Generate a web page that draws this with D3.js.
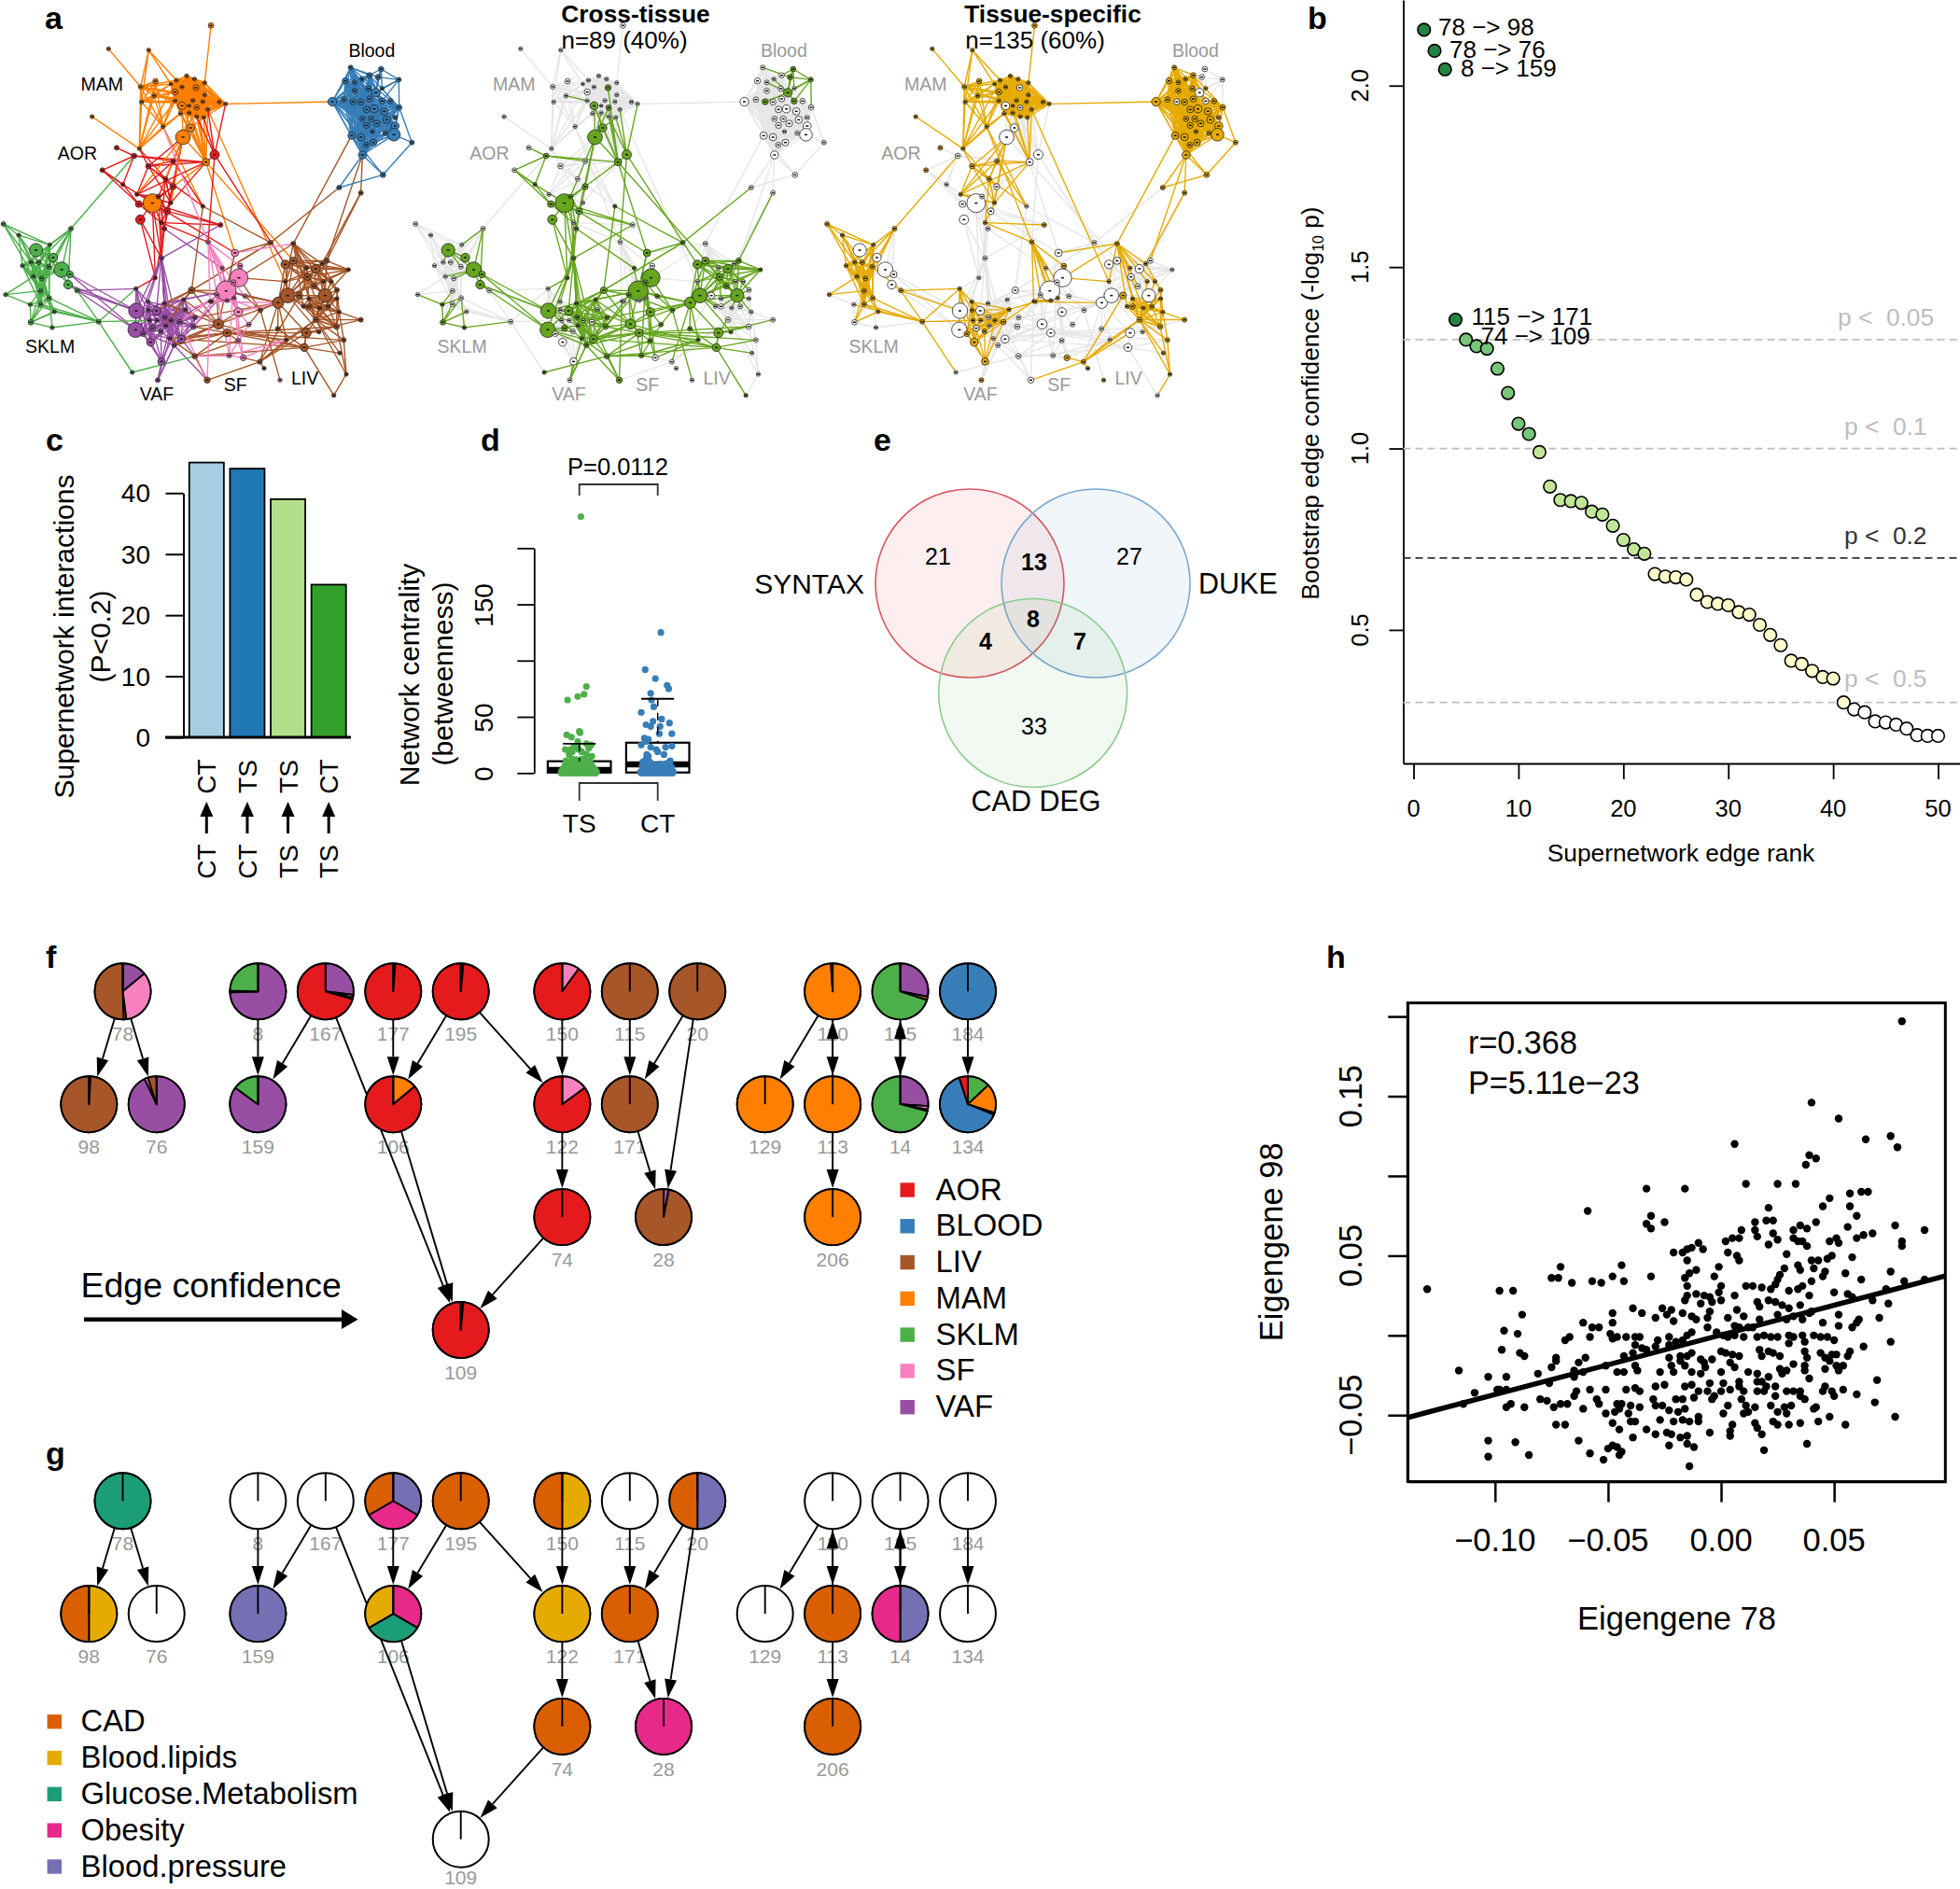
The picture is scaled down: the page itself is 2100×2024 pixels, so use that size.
<!DOCTYPE html>
<html>
<head>
<meta charset="utf-8">
<title>Supernetwork figure</title>
<script src="https://cdn.jsdelivr.net/npm/d3@7"></script>
<style>
  html, body { margin:0; padding:0; background:#fff; }
  svg { display:block; }
  text { font-family:"Liberation Sans", Arial, sans-serif; fill:#000; white-space:pre; }
</style>
</head>
<body>
<svg id="fig" width="2100" height="2024" viewBox="0 0 2100 2024"></svg>
<script>
// ------- panel a: supernetwork, node = [x, y, size, crossTissue] in layout units -------
const mamNodes = [[678,82,8,0],[349,157,6,0],[478,161,6,0],[500,261,8,0],[452,279,7,0],[600,244,6,0],[625,254,6,0],[658,266,6,0],[567,258,6,0],[549,270,5,0],[585,280,6,0],[630,282,9,1],[563,296,9,0],[495,308,6,0],[455,328,6,0],[658,305,6,0],[563,324,6,0],[620,323,6,0],[652,327,6,0],[705,328,6,0],[725,334,6,0],[585,340,12,1],[632,346,8,1],[668,352,6,0],[608,340,5,0],[580,365,6,0],[608,363,6,0],[632,375,6,0],[655,378,6,0],[524,407,6,0],[296,375,6,0],[613,411,12,1],[588,441,22,1],[448,478,6,0],[662,521,11,1],[490,653,28,1]];
const aorNodes = [[690,497,14,1],[375,475,7,0],[431,501,8,1],[557,518,7,0],[477,534,8,0],[329,547,7,0],[532,575,7,0],[395,593,6,1],[556,600,9,1],[440,625,6,0],[509,632,7,1],[446,656,10,1],[549,652,6,0],[537,679,10,1],[451,706,14,1],[519,716,6,0],[528,735,7,1],[709,723,7,0],[499,893,6,1]];
const vafNodes = [[519,830,7,1],[437,928,6,0],[438,999,23,1],[436,1060,23,1],[476,970,6,0],[503,999,13,1],[477,997,6,0],[528,975,6,1],[590,963,6,1],[596,995,6,0],[530,1020,7,1],[550,1030,6,0],[490,1055,9,1],[460,1073,8,0],[517,1065,7,0],[533,1047,6,1],[578,1035,8,0],[484,1100,12,0],[545,1088,6,1],[583,1090,12,1],[560,1110,7,1],[622,1050,8,1],[627,1021,7,1],[519,1162,11,0],[507,1222,7,0],[480,1030,6,0],[505,1030,6,0]];
const sfNodes = [[669,778,7,0],[755,813,11,1],[714,862,6,1],[772,855,8,0],[768,893,27,1],[727,935,30,1],[750,908,8,1],[697,948,7,1],[730,966,6,0],[752,958,6,0],[788,952,7,1],[766,1003,13,1],[800,1043,7,1],[765,1095,7,1],[737,1143,7,1],[782,1150,9,0],[675,968,5,0],[900,1222,6,0]];
const livNodes = [[616,933,10,1],[702,1042,15,1],[730,1070,12,1],[837,997,7,1],[894,973,17,1],[925,950,22,1],[917,850,13,1],[943,838,11,1],[1015,864,13,1],[988,890,10,1],[985,862,6,0],[1035,848,6,0],[1050,838,8,1],[1120,867,6,1],[917,905,6,0],[962,950,10,0],[1010,920,8,1],[1040,905,6,0],[1065,905,6,0],[1045,950,20,1],[1083,932,7,0],[975,985,6,0],[993,960,6,0],[993,985,8,0],[1027,990,6,0],[1055,985,7,0],[1083,960,6,0],[1090,1003,6,0],[1015,1028,8,0],[1160,1028,7,0],[1082,1050,8,0],[893,1057,7,1],[985,1070,14,1],[1025,1067,6,1],[920,1092,6,1],[978,1117,12,1],[1105,1093,7,0],[1092,1135,6,0],[1113,1203,6,0],[1073,1271,6,1],[835,1163,7,0],[849,1184,6,0],[666,1222,9,1],[626,1145,8,1],[870,780,7,1],[943,783,7,0],[1160,620,7,0],[680,970,6,0],[652,663,6,1]];
const bloodNodes = [[1127,217,7,0],[1225,222,8,1],[1110,260,9,0],[1140,265,7,0],[1163,254,6,0],[1188,242,8,0],[1215,248,8,1],[1282,256,7,1],[1228,284,6,0],[1140,292,8,0],[1185,285,8,0],[1208,298,13,1],[1068,327,13,0],[1105,320,8,0],[1135,327,9,1],[1160,328,9,0],[1188,318,9,0],[1228,325,9,1],[1255,325,8,0],[1283,345,8,0],[1178,352,10,0],[1203,350,12,0],[1235,358,11,0],[1270,378,7,0],[1165,382,8,0],[1193,382,9,0],[1243,385,11,0],[1178,403,9,0],[1212,397,10,0],[1270,405,12,0],[1130,436,11,0],[1160,441,11,0],[1197,423,6,0],[1238,428,7,0],[1266,433,19,0],[1177,466,8,0],[1200,458,10,0],[1165,498,12,0],[1324,458,7,0],[1231,562,8,0],[1090,603,7,0]];
const sklmNodes = [[11,720,7,0],[60,756,6,0],[228,735,7,0],[116,804,20,1],[160,787,6,0],[171,828,13,1],[72,854,6,0],[100,843,6,0],[124,843,7,0],[157,857,7,0],[198,867,23,1],[225,882,10,1],[107,889,6,0],[134,895,7,0],[219,915,13,1],[248,934,7,0],[130,935,7,0],[18,947,6,0],[97,979,6,1],[130,978,7,0],[158,958,7,0],[175,1002,6,0],[99,1036,8,1],[168,1053,6,1],[317,1034,7,0],[425,1197,6,1]];

// edge groups: [tissue colour in the first network, c = cross-tissue / t = tissue-specific, hub | clique, node ids]
const edgeGroups = [
  ['MAM','t','clique','m5 m6 m7 m8 m9 m10 m12 m15 m16 m17 m18 m19 m20 m23 m24 m25 m26 m27 m28'],
  ['MAM','t','hub','m4 m1 m2 m3 m8 m9 m12 m16 m13 m14 m19 m20 m29 m33'],
  ['MAM','t','hub','m14 m3 m13 m9 m12 m16 m17 m19 m20 m33 m29'],
  ['MAM','t','hub','m33 m30 m13 m3 m29 m25 m8 m16'],
  ['MAM','t','hub','m2 m8 m9 m14'],
  ['MAM','t','hub','m29 m3 m13 m25 m12 m16 l48'],
  ['MAM','t','hub','m13 m8 m3 m12 m19 m20'],
  ['MAM','t','hub','m0 m7'],
  ['MAM','t','hub','m20 b12'],
  ['MAM','t','hub','m34 m25 m26 m18 m24 m16'],
  ['MAM','t','hub','m23 m34 l14'],
  ['MAM','c','hub','m13 m16'],
  ['MAM','c','hub','m34 m21 m31 m32 m11 m22 m27 a8 s1 l7'],
  ['MAM','c','hub','m32 m31 m21 m22 m26'],
  ['MAM','c','hub','m31 m21 m28'],
  ['AOR','c','hub','a0 m28 m27 m23 m20 m34 l6 s0'],
  ['AOR','c','hub','a2 a1 a5 a7 m34 a3'],
  ['AOR','c','hub','a7 a5 a11 m35'],
  ['AOR','c','hub','a5 a11 a7'],
  ['AOR','c','hub','a8 m32 a13 a10 m35'],
  ['AOR','c','hub','a13 m32 a10 a11 a17'],
  ['AOR','c','hub','a10 m32 a16 v0'],
  ['AOR','c','hub','a16 m32 a13 v0'],
  ['AOR','c','hub','m35 a11 a14 v0 s1 a17'],
  ['AOR','c','hub','a14 v0 a18'],
  ['AOR','c','hub','a18 m35 a13'],
  ['AOR','c','hub','a15 m35 a11 v0'],
  ['AOR','t','hub','a4 a3 a6 a9 a12 m33 a8 m32 m34'],
  ['AOR','t','hub','a3 m32 a6 a9 m34 l48'],
  ['AOR','t','hub','a6 a12 a15 l48 m33'],
  ['AOR','t','hub','a15 a17 s0 a12'],
  ['AOR','t','hub','a12 m34 a9 m32 a6'],
  ['MAM','t','hub','m32 a3 a6 a12 a9'],
  ['AOR','t','hub','a9 m34 a12 a10'],
  ['LIV','c','hub','l48 l44 l0'],
  ['VAF','c','hub','a16 s2'],
  ['VAF','c','hub','v0 v3 v2 v4 v5 v7 v10 v15 v18 v19 v20 a17'],
  ['AOR','c','hub','a18 v1'],
  ['VAF','c','clique','v5 v7 v8 v10 v15 v19 v20 v21 v22 v11'],
  ['VAF','c','hub','v2 v7 v10 v15 v5 v14 v18'],
  ['VAF','c','hub','v3 v5 v14 v15 v18 v20'],
  ['VAF','c','hub','g14 v2 v3'],
  ['VAF','c','hub','g11 v2 v3'],
  ['VAF','t','hub','g15 v1 v2'],
  ['VAF','t','clique','v4 v6 v25 v26 v11 v12 v13 v17 v9 v16'],
  ['VAF','t','hub','v1 v2 v3 v4 v6 v13 v17'],
  ['VAF','t','hub','v23 v11 v12 v13 v17 v14 v16'],
  ['VAF','c','hub','v24 v18 v20 v23'],
  ['VAF','c','hub','v20 v24 l42'],
  ['VAF','c','hub','v19 l43 l2 l1'],
  ['LIV','c','hub','l0 v7 v8 v5 v15 s5 s7 l1 l44'],
  ['VAF','c','hub','s5 v8 v7 v15 v21 l4 s2 s1 s6 s4 s7 s10 s11'],
  ['LIV','c','hub','l1 v7 v8 v19 s7 s11 v20 l2 l4 v21 s1'],
  ['LIV','c','hub','l2 v18 v19 v20 v21 l35 l32 l34 s12 s13 l36 l30'],
  ['LIV','c','hub','l35 v19 l1 l31 l32 l36 l37 l39 l43'],
  ['LIV','c','hub','l3 s4 l4 s12 s10'],
  ['LIV','c','hub','l4 v22 s5 l5 s10 l19 l6 l7 l31 l34 l40 l32'],
  ['LIV','c','hub','l43 v18 l2 s14 s13'],
  ['SKLM','c','hub','g25 l43'],
  ['LIV','c','clique','l5 l6 l7 l8 l9 l16 l19 l12 l13'],
  ['LIV','c','hub','l5 l10 l14 l15 l33 l21 l23'],
  ['LIV','c','hub','l8 l10 l11 l14 l15 l17 l18 l20'],
  ['LIV','c','hub','l9 l10 l11 l14 l15 l17 l18 l22'],
  ['LIV','c','hub','l19 l15 l17 l18 l20 l22 l23 l24 l25 l26 l27'],
  ['LIV','c','hub','l44 l0 b40 s1'],
  ['LIV','c','hub','l12 l46'],
  ['LIV','c','hub','l32 l29 l33 l35 l28 l30'],
  ['LIV','c','hub','l42 l43'],
  ['LIV','t','clique','l21 l22 l23 l24 l25 l26 l27 l28 l30'],
  ['LIV','t','hub','l45 l10 l11 l16 l17 l18 l14 l21 l22 l24 l28 b30'],
  ['LIV','t','hub','l28 l29 l30 l36 l37 l38 l25 l34 l40 l20 l18 l17'],
  ['LIV','t','hub','l20 l27 l26 l11'],
  ['LIV','t','hub','l27 l29 l36'],
  ['LIV','t','hub','l38 l39 l36 l30'],
  ['LIV','t','hub','l46 b37 l11'],
  ['LIV','t','hub','l12 b37'],
  ['LIV','t','hub','l40 l41 l15 l32 s15 l42 l34'],
  ['LIV','t','hub','s4 l45 l14'],
  ['SF','t','hub','s1 l45'],
  ['SF','t','hub','s0 s2 s3 s5 s6 s8 s9 s7 s16 m29'],
  ['SF','t','hub','s16 v16 l47 s8 s9'],
  ['SF','t','hub','l47 v9 s8 s9 s7 l4'],
  ['SF','c','hub','s6 s10 s11 s13 s14 s15 s8 s9'],
  ['SF','c','hub','s14 s12 l43 l34 s15'],
  ['SF','c','hub','s15 l34 s13'],
  ['SF','c','hub','s11 l4 s12 s13'],
  ['SF','c','hub','s7 l3 s14 v21'],
  ['SF','c','hub','l42 v16 s16'],
  ['LIV','c','hub','s17 l3'],
  ['BLOOD','t','clique','b0 b2 b3 b5 b9 b12 b13 b15 b16 b20 b21 b22 b24 b26 b27 b28 b30 b31 b35 b36 b37 b29 b34 b19'],
  ['BLOOD','t','hub','b37 b39 b40 b30'],
  ['BLOOD','t','hub','b39 b38 b40 b30'],
  ['BLOOD','t','hub','b38 b34 b19'],
  ['BLOOD','c','hub','b7 b1 b6 b11 b8 b17 b19'],
  ['BLOOD','c','hub','b1 b6 b11 b8 b5'],
  ['BLOOD','c','hub','b11 b14 b6 b4 b3 b17'],
  ['BLOOD','c','hub','b0 b6'],
  ['BLOOD','t','hub','b13 b4 b10 b18 b23 b32 b33 b25'],
  ['SKLM','t','clique','g4 g6 g7 g8 g9 g12 g13 g16 g20 g19'],
  ['SKLM','t','hub','g0 g1 g4 g7 g12'],
  ['SKLM','t','hub','g1 g4 g7 g8 g6 g13'],
  ['SKLM','t','hub','g2 g4 g9 g8 g13 g16 a2'],
  ['SKLM','t','hub','g24 g19 g20 g18 g15 g21 v1 v25 g25'],
  ['SKLM','t','hub','g17 g16 g12'],
  ['SKLM','t','hub','g21 g19 g16 g13 g22'],
  ['SKLM','t','hub','g22 g16 g19'],
  ['SKLM','t','hub','g15 g9'],
  ['SKLM','c','hub','g3 g5 g7 g10 g9'],
  ['SKLM','c','hub','g10 g5 g11 g14 g2 g12 g13'],
  ['SKLM','c','hub','g2 g14 g4'],
  ['SKLM','c','hub','g22 g18 g19 g20 g21 g23'],
  ['SKLM','c','hub','g23 g24 g20'],
  ['SKLM','c','hub','g17 g18'],
  ['SKLM','c','hub','g18 g20 g16']
];
const networkLabels = [['MAM',328,290],['Blood',1195,183],['AOR',249,512],['SKLM',161,1133],['VAF',504,1287],['SF',757,1257],['LIV',980,1235]];

// ------- panel b -------
const edgeRank = d3.range(1, 51);
const edgeConfidence = [2.154,2.096,2.045,1.355,1.30,1.282,1.275,1.22,1.153,1.068,1.04,0.99,0.895,0.858,0.855,0.85,0.826,0.818,0.787,0.748,0.722,0.71,0.654,0.647,0.645,0.639,0.597,0.577,0.572,0.568,0.549,0.542,0.514,0.486,0.458,0.415,0.406,0.387,0.37,0.366,0.30,0.281,0.273,0.248,0.245,0.239,0.228,0.21,0.208,0.208];
const edgeFillSteps = [[4,'#238443'],[11,'#78C679'],[22,'#C2E699'],[41,'#FFFFCC'],[50,'#FFFFFF']];
const edgeNames = ['78 \u2212> 98','78 \u2212> 76','8 \u2212> 159','115 \u2212> 171','74 \u2212> 109'];
const pCutoffs = [['p <  0.05',1.30,'#BDBDBD'],['p <  0.1',1.0,'#BDBDBD'],['p <  0.2',0.698,'#333333'],['p <  0.5',0.30,'#BDBDBD']];

// ------- panel c -------
const interactionCounts = [45, 44, 39, 25];
const interactionColors = ['#A6CEE3','#1F78B4','#B2DF8A','#33A02C'];
const interactionFrom = ['CT','CT','TS','TS'];
const interactionTo = ['CT','TS','TS','CT'];

// ------- panel d: [jitter, betweenness] -------
const centralityTS = [[.02,228],[.09,77],[.06,70],[-.02,68],[-.15,65],[0,37],[.01,36],[-.16,34],[-.1,32],[-.02,28],[-.02,25],[.09,26],[.15,25],[-.07,23.5],[.12,22],[-.18,21],[-.11,21],[.03,19],[.16,15],[-.09,19],[-.13,16.5],[-.01,21],[.09,16.5],[.13,11],[-.09,12.5],[-.17,11],[.03,12.5],[-.03,8.3],[.07,7],[.13,7],[.17,5.5],[-.19,4],[-.13,7],[-.07,5.5],[-.23,1],[-.2,2],[-.17,1],[-.14,2],[-.11,1],[-.08,3],[-.05,1],[-.02,2],[.01,1],[.04,3],[.07,1],[.1,2],[.13,1],[.16,2],[.19,1],[.22,1],[-.21,4],[-.15,5],[-.1,4],[-.04,5],[0,6],[.05,5],[.1,5],[.15,4],[.18,3],[-.06,9],[.02,8],[.08,9],[-.23,0],[-.19,0],[-.15,0],[-.11,0],[-.07,0],[-.03,0],[.01,0],[.05,0],[.09,0],[.13,0],[.17,0],[.21,0],[-.21,3],[-.17,3],[-.13,4],[-.09,7],[-.05,8],[-.01,10],[.03,8],[.07,4],[.11,7],[.15,8],[.2,3],[-.18,7],[-.14,9],[-.04,12],[.06,12],[.1,10]];
const centralityCT = [[.04,125],[-.16,92],[-.03,84],[.12,78],[.14,75],[-.09,71],[-.08,65],[-.05,59],[-.21,54],[.05,48],[-.06,46],[.15,44.5],[-.15,43],[-.09,41.5],[.03,41.5],[.02,35],[.18,35],[-.17,31],[-.12,30],[-.21,25],[-.09,23],[.18,24],[-.15,28],[-.02,21],[.1,23],[0,19],[.08,16.5],[-.14,16.5],[-.12,15],[-.19,10],[.16,11],[-.15,12.5],[-.1,10],[.06,7],[.16,7],[-.22,1],[-.19,3],[-.16,1],[-.13,2],[-.1,1],[-.07,4],[-.04,1],[-.01,2],[.02,1],[.05,3],[.08,1],[.11,2],[.14,1],[.17,3],[.2,1],[-.2,6],[-.15,6],[-.11,5],[-.05,6],[.01,5],[.06,4],[.11,6],[.15,5],[-.21,0],[-.17,0],[-.13,0],[-.09,0],[-.05,0],[-.01,0],[.03,0],[.07,0],[.11,0],[.15,0],[.19,0],[-.18,8],[-.14,9],[-.08,8],[-.03,7],[.03,8],[.09,8],[.13,9],[.18,5]];
const boxStats = [{name:'TS', pos:1, q1:0.5, med:2.8, q3:10.5, whisker:26}, {name:'CT', pos:2, q1:0.5, med:7.7, q3:27, whisker:66}];

// ------- panel e: circles in radius units -------
const vennSets = [{name:'SYNTAX', x:0, y:0, stroke:'#D9565F', fill:'#E41A1C'},{name:'DUKE', x:1.337, y:0, stroke:'#7BA7CF', fill:'#377EB8'},{name:'CAD DEG', x:.67, y:1.163, stroke:'#8CCB8A', fill:'#4DAF4A'}];
const vennCounts = [[21,-.337,-.287,0],[13,.683,-.218,1],[27,1.693,-.287,0],[8,.673,.386,1],[4,.168,.614,1],[7,1.168,.614,1],[33,.683,1.515,0]];

// ------- panels f, g: module DAG -------
const moduleIds = ['78','98','76','8','167','177','195','150','115','20','110','185','184','159','106','122','171','129','113','14','134','74','28','206','109'];
const moduleCols = [1,0,2,5,7,9,11,14,16,18,22,24,26,5,9,14,16,20,22,24,26,14,17,22,11];
const moduleRows = [0,1,1,0,0,0,0,0,0,0,0,0,0,1,1,1,1,1,1,1,1,2,2,2,3];
const dagEdges = [['78','98'],['78','76'],['8','159'],['167','159'],['167','109'],['177','106'],['195','106'],['195','122'],['150','122'],['115','171'],['20','171'],['20','28'],['171','28'],['122','74'],['74','109'],['106','109'],['110','129'],['110','113'],['113','110'],['185','14'],['14','185'],['184','134'],['113','206']];
const tissueNames = ['AOR','BLOOD','LIV','MAM','SKLM','SF','VAF'];
const tissueColors = ['#E41A1C','#377EB8','#A65628','#FF7F00','#4DAF4A','#F781BF','#984EA3'];
const tissueSlices = {
  '78':[['VAF',.14],['SF',.34],['MAM',.015],['LIV',.505]], '98':[['MAM',.005],['AOR',.005],['LIV',.99]], '76':[['VAF',.93],['SF',.02],['LIV',.05]],
  '8':[['VAF',.745],['AOR',.005],['SF',.005],['SKLM',.245]], '167':[['VAF',.27],['SF',.015],['MAM',.01],['AOR',.705]], '177':[['LIV',.012],['AOR',.988]],
  '195':[['MAM',.015],['AOR',.985]], '150':[['SF',.1],['AOR',.9]], '115':[['LIV',1]], '20':[['LIV',1]], '110':[['MAM',.99],['LIV',.01]],
  '185':[['VAF',.28],['LIV',.02],['SKLM',.7]], '184':[['BLOOD',1]], '159':[['VAF',.85],['SKLM',.15]], '106':[['MAM',.14],['AOR',.86]],
  '122':[['SF',.15],['AOR',.85]], '171':[['LIV',1]], '129':[['MAM',1]], '113':[['MAM',1]], '14':[['VAF',.26],['SF',.02],['AOR',.01],['SKLM',.71]],
  '134':[['SKLM',.13],['MAM',.17],['LIV',.01],['BLOOD',.64],['AOR',.05]], '74':[['AOR',1]], '28':[['VAF',.03],['LIV',.97]], '206':[['MAM',1]], '109':[['MAM',.015],['AOR',.985]]
};
const traitNames = ['CAD','Blood.lipids','Glucose.Metabolism','Obesity','Blood.pressure'];
const traitColors = ['#D95F02','#E6AB02','#1B9E77','#E7298A','#7570B3'];
const traitSlices = {
  '78':['Glucose.Metabolism'], '177':['Blood.pressure','Obesity','CAD'], '195':['CAD'], '150':['Blood.lipids','CAD'], '20':['Blood.pressure','CAD'],
  '98':['Blood.lipids','CAD'], '159':['Blood.pressure'], '106':['Obesity','Glucose.Metabolism','Blood.lipids'], '122':['Blood.lipids'], '171':['CAD'],
  '113':['CAD'], '14':['Blood.pressure','Obesity'], '74':['CAD'], '28':['Obesity'], '206':['CAD']
};

// ------- panel h: eigengene pairs, in thousandths -------
const eigengenePairs = [[80,197],[40,146],[52,136],[64,123],[75,125],[78,118],[6,120],[39,113],[42,111],[37.5,107],[-33,92],[-16,92],[11,95],[25,95],[33,95],[48,86],[45,81],[57,89],[62,90],[65,90],[57,81],[21,80],[-59,78],[-31,75],[-33,70],[-31,67],[-25,71],[15,71],[20,72],[23,72],[42,71],[60,75],[56,68],[77,69],[90,66],[67,64],[63,63],[60,61],[35,69],[38,67],[32,66],[32,61],[9,66],[15,66],[16,62],[23,64],[25,60],[21,57],[2,59],[5,61],[8,61],[34,59],[36,59],[38,56],[48,59],[51,61],[52,58],[80,59],[80,56],[-21,52],[-17,52],[-15,54],[-13,55],[-10,58],[-8,54],[3,52],[7,50],[8,47],[-15,47],[29,51],[49,50],[47,48],[58,49],[40,47],[43,47],[34,44],[41,42],[35,41],[28,42],[26,38],[46,40],[45,37],[55,39],[75,40],[-1,43],[-44,44],[-71,43],[-72,36],[-75,36],[-66,33],[-48,37],[-43,34],[-57,34],[-53,33],[-31,37],[-16,36],[-14,39],[-11,41],[-3,37],[0,31],[-1,27],[-130,29],[-98,28],[-92,28],[-15,31],[-15,25],[-11,26],[-7.5,25],[-5,24],[11,31],[14,31],[18,30],[22,29],[24,32],[25,35],[30,28],[34,29],[36,31],[40,34],[39,25],[50,27],[56,26],[62,35],[58,24],[73,29],[81,34],[90,35],[67,22],[74,20],[-16,22],[-9,20],[-4,21],[0,22],[6,25],[16,21],[21,22],[24,21],[27,19],[17,18],[30,17],[35,19],[39,14],[32,12],[36,10],[-39,17],[-48,14],[-35,14],[-26,17],[-22,16],[-24,13],[-29,11],[-21,9],[-17,14],[-13,12],[-11,10],[-5,15],[-6,11],[-88,13],[7,16],[10,12],[3,11],[17,10],[14,5],[6,6],[8,5],[12,5],[25,13],[29,10],[40,15],[52,13],[61,10],[60,8],[70,11],[45,8],[52,6],[58,5],[-61,8],[-48,8],[-57,5],[-54,5],[-96,3],[-90,1],[-49,1],[-46,-1],[-42,-1],[-38,-1],[-67,-1],[-69,-3],[-58,-1],[-48,-2],[-36,-1],[-38,-6],[-35,-8],[-28,-3],[-23,-1],[-17,-3],[-15,0],[-13,2],[-6,5],[-2,2],[1,0],[3,-1],[6,0],[10,-1],[16,-1],[19,0],[22,-1],[25,-1],[30,0],[32,-1],[36,0],[41,0],[44,-1],[47,-1],[50,-3],[30,-5],[37,-4],[63,-7],[75,-4],[57,-10],[56,-13],[44,-11],[46,-14],[49,-12],[51,-12],[48,-16],[51,-19],[52,-22],[46,-21],[54,-19],[-97,-9],[-89,-11],[-87,-13],[-33,-9],[-29,-7],[-23,-6],[-20,-4],[-43,-13],[-39,-11],[-23,-14],[-18,-13],[-15,-13],[-13,-11],[0,-10],[2,-11],[5,-12],[8,-13],[4,-17],[17,-9],[21,-10],[23,-11],[18,-13],[26,-13],[37,-10],[38,-14],[32,-18],[37,-19],[37,-22],[-73,-14],[-73,-16],[-75,-20],[-60,-14],[-63,-17],[-9,-15],[-7.5,-17],[-4,-15],[-7,-20],[-18,-16],[-16,-19],[-51,-19],[-22,-19],[-27,-23],[-21,-23],[-13,-23],[-9,-24],[-38,-19],[-37,-22],[-46,-23],[-43,-23],[0,-23],[6,-20],[12,-23],[16,-24],[18,-29],[26,-21],[29,-22],[27,-24],[-116,-22],[-81,-24],[-103,-26],[-95,-26],[-65,-22],[-65,-26],[-61,-23],[-76,-30],[-64,-35],[39,-27],[46,-32],[1,-30],[8,-29],[-5,-30],[0,-35],[16,-29],[21,-26],[20,-32],[24,-32],[69,-28],[-99,-34],[-98,-34],[-95,-34],[-58,-34],[-51,-34],[-42,-34],[-38,-33],[-36,-35],[-29,-32],[-25,-31],[-16,-32],[-13,-31],[-10,-35],[-6,-35],[4,-34],[8,-32],[10,-35],[16,-35],[29,-35],[32,-35],[35,-35],[35,-38],[19,-35],[24,-38],[45,-35],[49,-35],[50,-38],[54,-34],[60,-37],[-109,-36],[-65,-38],[-80,-40],[-77,-41],[-74,-45],[-71,-43],[-68,-43],[-55,-40],[-54,-43],[-46,-43],[-44,-43],[-40,-44],[-30,-40],[-29,-44],[-26,-44],[-20,-40],[-17,-40],[-12,-39],[-4,-40],[-3,-38],[3,-44],[9,-40],[11,-44],[12,-48],[15,-45],[22,-44],[28,-45],[31,-44],[41,-46],[37,-40],[68,-42],[-114,-43],[-93,-43],[-95,-45],[-87,-45],[-61,-46],[-51,-49],[-45,-46],[-47,-48],[-41,-49],[-36,-45],[-23,-47],[-19,-48],[-16,-46],[-10,-51],[1,-49],[10,-49],[25,-48],[29,-49],[42,-45],[48,-51],[77,-51],[-40,-54],[-38,-54],[-27,-53],[-21,-54],[-17,-53],[-14,-54],[-10,-54],[-48,-55],[-73,-56],[-69,-56],[5,-56],[15,-55],[23,-54],[25,-56],[30,-56],[35,-55],[43,-54],[55,-56],[-45,-59],[-33,-59],[-29,-62],[-24,-61],[-22,-62],[-5,-61],[4,-60],[4,-63],[16,-58],[18,-62],[-39,-64],[-18,-64],[-15,-63],[-63,-66],[-103,-66],[-91,-67],[-23,-69],[-15,-68],[-12,-70],[-50,-71],[-48,-69],[-46,-70],[38,-68],[19,-72],[-85,-75],[-58,-74],[-44,-73],[-45,-75],[-103,-76],[-52,-78],[-14,-82]];
const regressionLine = [[-.1386,-.0515],[.0992,.0373]];

// ------- helpers -------
const svg = d3.select('#fig');

function label(g, str, x, y, size, opts = {}){
  const t = g.append('text').attr('x', x).attr('y', y).attr('font-size', size)
    .attr('text-anchor', opts.anchor || 'middle').text(str);
  if(opts.bold) t.attr('font-weight', 'bold');
  if(opts.fill) t.style('fill', opts.fill);
  if(opts.rotate) t.attr('transform', `rotate(-90,${x},${y})`);
  return t;
}

function styleAxis(g, width){
  g.selectAll('path, line').attr('stroke', '#000').attr('stroke-width', width);
  g.selectAll('text').remove();
}

[['a',48,31],['b',1401,31],['c',49,483],['d',515,483],['e',936,483],['f',49,1037],['g',49,1569],['h',1421,1037]]
  .forEach(d => label(svg, d[0], d[1], d[2], 34, { bold:true, anchor:'start' }));

// ------- panel a -------
function drawNetworks(){
  const lookup = {};
  const addNodes = (rows, prefix, tissue) => rows.forEach((r, i) => {
    lookup[prefix + i] = { id:prefix + i, x:r[0], y:r[1], r:r[2], ct:r[3], tissue };
  });
  addNodes(mamNodes, 'm', 'MAM'); addNodes(aorNodes, 'a', 'AOR'); addNodes(vafNodes, 'v', 'VAF'); addNodes(sfNodes, 's', 'SF');
  addNodes(livNodes, 'l', 'LIV'); addNodes(bloodNodes, 'b', 'BLOOD'); addNodes(sklmNodes, 'g', 'SKLM');
  const nodes = Object.values(lookup);

  const edges = [];
  edgeGroups.forEach(([tissue, type, kind, ids]) => {
    const list = ids.split(' ');
    if(kind === 'hub') list.slice(1).forEach(id => edges.push({ a:lookup[list[0]], b:lookup[id], tissue, type }));
    else list.forEach((p, i) => list.slice(i + 1).forEach(q => edges.push({ a:lookup[p], b:lookup[q], tissue, type })));
  });

  const tissueColor = d3.scaleOrdinal(tissueNames, tissueColors);
  const x = d3.scaleLinear([0, 1350], [0, 450]);
  const y = d3.scaleLinear([0, 1350], [0, 450]);
  const GREY = '#E6E6E6';
  const panels = [
    { dx:0, edgeColor:e => tissueColor(e.tissue), nodeColor:n => tissueColor(n.tissue), order:edges, label:'#000' },
    { dx:441.5, edgeColor:e => e.type === 'c' ? '#66A61E' : GREY, nodeColor:n => n.ct ? '#66A61E' : '#fff', order:d3.sort(edges, e => e.type === 'c' ? 1 : 0), label:'#999' },
    { dx:882.5, edgeColor:e => e.type === 't' ? '#E6AB02' : GREY, nodeColor:n => n.ct ? '#fff' : '#E6AB02', order:d3.sort(edges, e => e.type === 't' ? 1 : 0), label:'#999' }
  ];
  panels.forEach(p => {
    const g = svg.append('g').attr('transform', `translate(${p.dx},0)`);
    g.append('g').selectAll('line').data(p.order).join('line')
      .attr('x1', e => x(e.a.x)).attr('y1', e => y(e.a.y)).attr('x2', e => x(e.b.x)).attr('y2', e => y(e.b.y))
      .attr('stroke', p.edgeColor).attr('stroke-width', 1.4);
    const n = g.append('g').selectAll('g').data(nodes).join('g').attr('transform', d => `translate(${x(d.x)},${y(d.y)})`);
    n.append('circle').attr('r', d => d.r / 2.8).attr('fill', p.nodeColor).attr('stroke', '#222').attr('stroke-width', .8);
    // the ids inside the nodes are too small to read, a dark mark stands in for them
    n.append('rect').attr('x', -1.5).attr('y', -.75).attr('width', 3).attr('height', 1.5).attr('fill', '#111');
    networkLabels.forEach(l => label(g, l[0], x(l[1]), y(l[2]), 19.5, { fill:p.label }));
  });
  label(svg, 'Cross-tissue', 681, 23.5, 26.3, { bold:true });
  label(svg, 'n=89 (40%)', 669, 52, 26);
  label(svg, 'Tissue-specific', 1128, 23.5, 26.3, { bold:true });
  label(svg, 'n=135 (60%)', 1109, 52, 26);
}

// ------- panel b -------
function drawEdgeRank(){
  const x = d3.scaleLinear([-.98, 52.09], [1503.5, 2100]);
  const y = d3.scaleLinear([.132, 2.236], [818, 0]);
  const g = svg.append('g');
  g.append('g').attr('transform', 'translate(1503.5,0)').call(d3.axisLeft(y).tickValues([.5, 1, 1.5, 2]).tickSize(15).tickSizeOuter(0)).call(styleAxis, 1.8);
  g.append('g').attr('transform', 'translate(0,818)').call(d3.axisBottom(x).tickValues([0, 10, 20, 30, 40, 50]).tickSize(17).tickSizeOuter(0)).call(styleAxis, 1.8);
  [.5, 1, 1.5, 2].forEach(v => label(g, v.toFixed(1), 1466, y(v), 25.5, { rotate:true }));
  [0, 10, 20, 30, 40, 50].forEach(v => label(g, v, x(v), 875, 25.5));
  label(g, 'Supernetwork edge rank', 1801, 923, 26.3);
  const yl = label(g, 'Bootstrap edge confidence (-log', 1413, 432, 26.3, { rotate:true });
  yl.append('tspan').attr('font-size', 16).attr('dy', 5).text('10');
  yl.append('tspan').attr('dy', -5).text(' p)');

  pCutoffs.forEach(([name, v, color]) => {
    g.append('line').attr('x1', x.range()[0]).attr('x2', x.range()[1]).attr('y1', y(v)).attr('y2', y(v))
      .attr('stroke', color).attr('stroke-width', 1.7).attr('stroke-dasharray', '8 5');
  });
  [[1969,349],[1976,466],[1976,583],[1976,736]].forEach((p, i) => label(g, pCutoffs[i][0], p[0], p[1], 26.3, { anchor:'start', fill:pCutoffs[i][2] }));

  g.append('g').selectAll('circle').data(edgeRank).join('circle')
    .attr('cx', d => x(d)).attr('cy', (d, i) => y(edgeConfidence[i])).attr('r', 6.8)
    .attr('fill', d => edgeFillSteps.find(s => d <= s[0])[1]).attr('stroke', '#000').attr('stroke-width', 1.6);

  [[1541,38],[1553,62],[1565,82],[1576.5,348],[1586.5,369]].forEach((p, i) => label(g, edgeNames[i], p[0], p[1], 26, { anchor:'start' }));
}

// ------- panel c -------
function drawInteractions(){
  const x = d3.scaleBand(d3.range(4), [199.5, 374]).paddingInner(.15).paddingOuter(.075);
  const y = d3.scaleLinear([0, 40], [790, 528.3]);
  const g = svg.append('g');
  g.selectAll('rect').data(interactionCounts).join('rect')
    .attr('x', (d, i) => x(i)).attr('width', x.bandwidth()).attr('y', d => y(d)).attr('height', d => y(0) - y(d))
    .attr('fill', (d, i) => interactionColors[i]).attr('stroke', '#000').attr('stroke-width', 1.8);
  g.append('g').attr('transform', 'translate(196.5,0)').call(d3.axisLeft(y).tickValues([0, 10, 20, 30, 40]).tickSize(19).tickSizeOuter(0)).call(styleAxis, 2);
  g.append('line').attr('x1', 177).attr('x2', 376).attr('y1', y(0)).attr('y2', y(0)).attr('stroke', '#000').attr('stroke-width', 3);
  [0, 10, 20, 30, 40].forEach(v => label(g, v, 161, y(v) + 10, 28, { anchor:'end' }));
  label(g, 'Supernetwork interactions', 78.5, 682, 30, { rotate:true });
  label(g, '(P<0.2)', 118, 682, 30, { rotate:true });
  interactionCounts.forEach((d, i) => {
    const cx = x(i) + x.bandwidth() / 2;
    label(g, interactionTo[i], cx + 10, 832, 28, { rotate:true });
    label(g, interactionFrom[i], cx + 10, 923, 28, { rotate:true });
    g.append('line').attr('x1', cx).attr('x2', cx).attr('y1', 893).attr('y2', 870).attr('stroke', '#000').attr('stroke-width', 3);
    g.append('path').attr('d', d3.line()([[cx - 7, 875], [cx, 859], [cx + 7, 875]])).attr('fill', '#000');
  });
}

// ------- panel d -------
function drawCentrality(){
  const x = d3.scaleLinear([1, 2], [620.7, 704.7]);
  const y = d3.scaleLinear([0, 200], [828.3, 587.3]);
  const g = svg.append('g');
  g.append('g').attr('transform', 'translate(572.3,0)').call(d3.axisLeft(y).tickValues([0, 50, 100, 150, 200]).tickSize(18).tickSizeOuter(0)).call(styleAxis, 1.8);
  [0, 50, 150].forEach(v => label(g, v, 528, y(v) + 1, 28, { rotate:true }));
  label(g, 'Network centrality', 449, 723, 30, { rotate:true });
  label(g, '(betweenness)', 485, 722, 30, { rotate:true });

  boxStats.forEach(b => {
    g.append('rect').attr('x', x(b.pos) - 33.8).attr('width', 67.6).attr('y', y(b.q3)).attr('height', y(b.q1) - y(b.q3))
      .attr('fill', '#fff').attr('stroke', '#000').attr('stroke-width', 2.2);
    g.append('line').attr('x1', x(b.pos) - 33.8).attr('x2', x(b.pos) + 33.8).attr('y1', y(b.med)).attr('y2', y(b.med)).attr('stroke', '#000').attr('stroke-width', 6.5);
  });
  [[centralityTS, 1, '#4DAF4A'], [centralityCT, 2, '#377EB8']].forEach(([rows, pos, color]) => {
    g.append('g').selectAll('circle').data(rows).join('circle')
      .attr('cx', d => x(pos + d[0])).attr('cy', d => y(d[1])).attr('r', 3.6).attr('fill', color);
  });
  boxStats.forEach(b => {
    g.append('line').attr('x1', x(b.pos)).attr('x2', x(b.pos)).attr('y1', y(b.whisker)).attr('y2', y(b.q3))
      .attr('stroke', '#000').attr('stroke-width', 1.5).attr('stroke-dasharray', '8 7');
    g.append('line').attr('x1', x(b.pos) - 17.5).attr('x2', x(b.pos) + 17.5).attr('y1', y(b.whisker)).attr('y2', y(b.whisker)).attr('stroke', '#000').attr('stroke-width', 1.8);
    label(g, b.name, x(b.pos), 892, 28);
  });
  const bracket = (y0, y1) => g.append('path').attr('fill', 'none').attr('stroke', '#333').attr('stroke-width', 1.8)
    .attr('d', d3.line()([[x(1), y1], [x(1), y0], [x(2), y0], [x(2), y1]]));
  bracket(519, 531);
  bracket(839, 858);
  label(g, 'P=0.0112', 662, 509, 25.5);
}

// ------- panel e -------
function drawVenn(){
  const x = d3.scaleLinear([0, 1], [1039, 1140]);
  const y = d3.scaleLinear([0, 1], [625, 726]);
  const g = svg.append('g');
  g.selectAll('circle').data(vennSets).join('circle')
    .attr('cx', d => x(d.x)).attr('cy', d => y(d.y)).attr('r', x(1) - x(0))
    .attr('fill', d => d.fill).attr('fill-opacity', .07).attr('stroke', d => d.stroke).attr('stroke-width', 1.6);
  vennCounts.forEach(d => label(g, d[0], x(d[1]), y(d[2]) + 8.5, 25, { bold:!!d[3] }));
  label(g, 'SYNTAX', 926, 636, 30, { anchor:'end' });
  label(g, 'DUKE', 1284, 636, 30.5, { anchor:'start' });
  label(g, 'CAD DEG', 1110, 869, 30.5);
}

// ------- panels f, g -------
function drawDag(rowTop, rowBottom, slicesFor){
  const x = d3.scaleLinear([0, 26], [95.3, 1037]);
  const y = d3.scaleLinear([0, 3], [rowTop, rowBottom]);
  const R = 30;
  const g = svg.append('g');
  const pos = {};
  moduleIds.forEach((id, i) => { pos[id] = [x(moduleCols[i]), y(moduleRows[i])]; });

  moduleIds.forEach(id => label(g, id, pos[id][0], Math.min(pos[id][1] + 53, 2019), 21, { fill:'#999' }));

  dagEdges.forEach(([from, to]) => {
    const [x0, y0] = pos[from], [x1, y1] = pos[to];
    const len = Math.hypot(x1 - x0, y1 - y0), ux = (x1 - x0) / len, uy = (y1 - y0) / len;
    const tip = [x1 - ux * (R + 1), y1 - uy * (R + 1)];
    const back = [tip[0] - ux * 20, tip[1] - uy * 20];
    g.append('line').attr('x1', x0 + ux * R).attr('y1', y0 + uy * R).attr('x2', back[0]).attr('y2', back[1]).attr('stroke', '#000').attr('stroke-width', 1.9);
    g.append('path').attr('fill', '#000').attr('d', d3.line()([tip, [back[0] - uy * 6.5, back[1] + ux * 6.5], [back[0] + uy * 6.5, back[1] - ux * 6.5]]) + 'Z');
  });

  const pie = d3.pie().sort(null).value(d => d[1]);
  const arc = d3.arc().innerRadius(0).outerRadius(R);
  moduleIds.forEach(id => {
    const node = g.append('g').attr('transform', `translate(${pos[id]})`);
    const slices = slicesFor(id);
    node.append('circle').attr('r', R).attr('fill', '#fff').attr('stroke', '#000').attr('stroke-width', 2);
    node.selectAll('path').data(pie(slices)).join('path').attr('d', arc)
      .attr('fill', d => d.data[2]).attr('stroke', '#000').attr('stroke-width', 1.9).attr('stroke-linejoin', 'round');
    node.append('line').attr('y2', -R).attr('stroke', '#000').attr('stroke-width', 1.9);
  });
}

const tissueColorOf = name => tissueColors[tissueNames.indexOf(name)];
const traitColorOf = name => traitColors[traitNames.indexOf(name)];
function legend(names, colors, sx, tx, ys){
  names.forEach((n, i) => {
    svg.append('rect').attr('x', sx).attr('y', ys(i) - 7.7).attr('width', 15.4).attr('height', 15.4).attr('fill', colors[i]);
    label(svg, n, tx, ys(i) + 10.5, 32.8, { anchor:'start' });
  });
}

// ------- panel h -------
function drawEigengenes(){
  const x = d3.scaleLinear([-.1386, .0992], [1508.3, 2084.3]);
  const y = d3.scaleLinear([-.0917, .2085], [1587.5, 1074.6]);
  const g = svg.append('g');
  g.append('g').attr('transform', 'translate(0,1587.5)').call(d3.axisBottom(x).tickValues([-.1, -.05, 0, .05]).tickSize(22).tickSizeOuter(0)).call(styleAxis, 2.5);
  g.append('g').attr('transform', 'translate(1508.3,0)').call(d3.axisLeft(y).tickValues([-.05, 0, .05, .1, .15, .2]).tickSize(21).tickSizeOuter(0)).call(styleAxis, 2.5);
  g.append('rect').attr('x', x.range()[0]).attr('y', y.range()[1]).attr('width', x.range()[1] - x.range()[0]).attr('height', y.range()[0] - y.range()[1])
    .attr('fill', 'none').attr('stroke', '#000').attr('stroke-width', 3);
  [-.1, -.05, 0, .05].forEach(v => label(g, d3.format('.2f')(v).replace('-', '\u2212'), x(v), 1661.6, 34.5));
  [-.05, .05, .15].forEach(v => label(g, d3.format('.2f')(v).replace('-', '\u2212'), 1459, y(v), 34.5, { rotate:true }));
  label(g, 'Eigengene 78', 1796.5, 1746, 34.5);
  label(g, 'Eigengene 98', 1374, 1330.8, 34.5, { rotate:true });
  label(g, 'r=0.368', 1573, 1129, 34.2, { anchor:'start' });
  label(g, 'P=5.11e\u221223', 1573, 1171.6, 34.2, { anchor:'start' });
  g.append('g').selectAll('circle').data(eigengenePairs).join('circle')
    .attr('cx', d => x(d[0] / 1000)).attr('cy', d => y(d[1] / 1000)).attr('r', 4.2).attr('fill', '#000');
  g.append('line').attr('x1', x(regressionLine[0][0])).attr('y1', y(regressionLine[0][1])).attr('x2', x(regressionLine[1][0])).attr('y2', y(regressionLine[1][1]))
    .attr('stroke', '#000').attr('stroke-width', 5.5);
}

// Init
drawNetworks();
drawEdgeRank();
drawInteractions();
drawCentrality();
drawVenn();
drawDag(1062.3, 1425, id => (tissueSlices[id] || []).map(s => [s[0], s[1], tissueColorOf(s[0])]));
legend(tissueNames, tissueColors, 964.5, 1002.6, d3.scaleLinear([0, 6], [1275, 1507.7]));
label(svg, 'Edge confidence', 86.5, 1390, 37.5, { anchor:'start' });
const confLine = d3.scaleLinear([0, 1], [90, 383.6]);
svg.append('line').attr('x1', confLine(0)).attr('x2', confLine(.95)).attr('y1', 1413.7).attr('y2', 1413.7).attr('stroke', '#000').attr('stroke-width', 4.5);
svg.append('path').attr('d', d3.line()([[confLine(.94), 1403], [confLine(1), 1413.7], [confLine(.94), 1424]]) + 'Z').attr('fill', '#000');
drawDag(1608.3, 1970.7, id => (traitSlices[id] || []).map(name => [name, 1, traitColorOf(name)]));
legend(traitNames, traitColors, 50.6, 86.5, d3.scaleLinear([0, 4], [1844.7, 2000]));
drawEigengenes();
</script>
</body>
</html>
